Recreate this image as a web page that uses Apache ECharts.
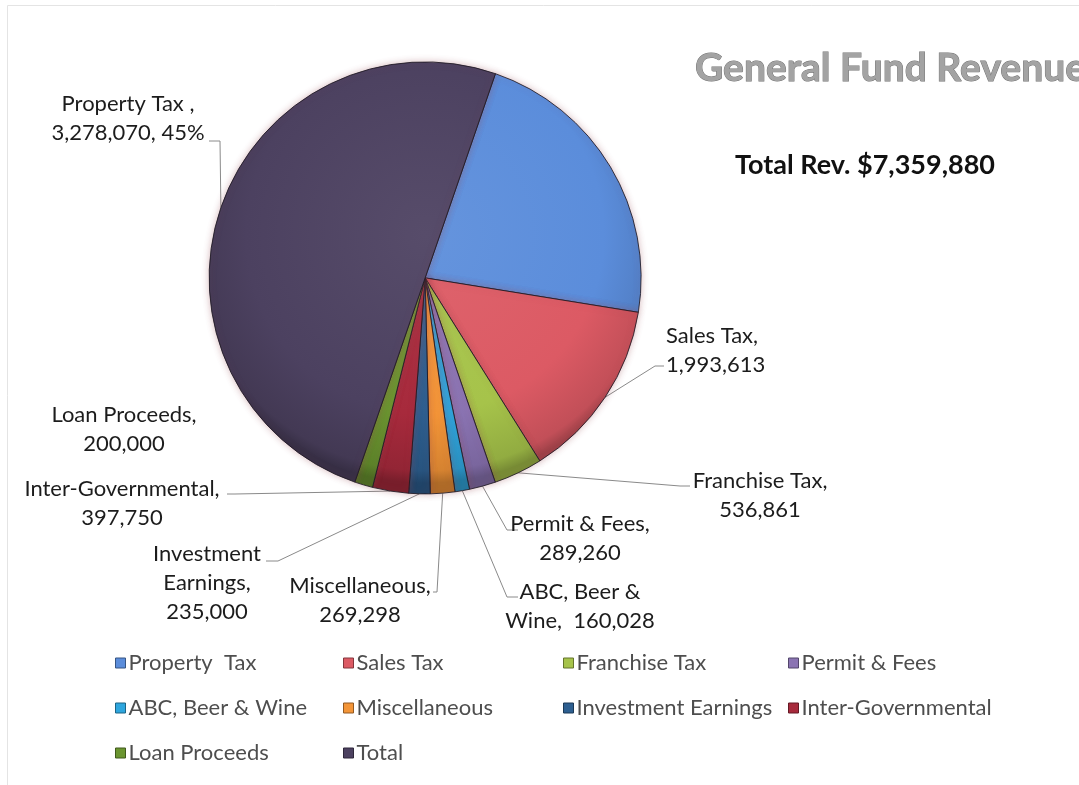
<!DOCTYPE html>
<html>
<head>
<meta charset="utf-8">
<title>General Fund Revenue</title>
<script src="https://cdn.jsdelivr.net/npm/echarts@6/dist/echarts.min.js"></script>
<style>
  html, body { margin: 0; padding: 0; background: #ffffff; }
  #chart { width: 1079px; height: 785px; }
</style>
</head>
<body>
<div id="chart"></div>
<script>
// Revenue categories, in slice order (clockwise)
const categories = [
  'Property  Tax', 'Sales Tax', 'Franchise Tax', 'Permit & Fees',
  'ABC, Beer & Wine', 'Miscellaneous', 'Investment Earnings',
  'Inter-Governmental', 'Loan Proceeds', 'Total'
];
// Amounts in dollars
const amounts = [
  3278070, 1993613, 536861, 289260, 160028,
  269298, 235000, 397750, 200000, 7359880
];
// Label wording for each category as printed beside the pie
const labelNames = [
  'Property Tax ,', 'Sales Tax,', 'Franchise Tax,', 'Permit & Fees,',
  'ABC, Beer &\nWine, ', 'Miscellaneous,', 'Investment\nEarnings,',
  'Inter-Governmental,', 'Loan Proceeds,'
];
const chartTitle = 'General Fund Revenue';
const totalLine = 'Total Rev. $7,359,880';

// Slice base colours
const baseColors = [
  '#5b8ddb', '#dc5a64', '#a6c34a', '#8b74b3', '#2ea6de',
  '#f39538', '#2d5f90', '#a72a3c', '#6a9530', '#4c4160'
];

// Legend columns (indices into categories)
const legendColumns = [[0, 4, 8], [1, 5, 9], [2, 6], [3, 7]];
const legendLefts = [110, 338, 558, 783];

// Where each label sits and how its leader line bends
const labelSpots = {
  1: { x: 666, y: 350, align: 'left',   line: [[655, 366], [664, 366]] },
  2: { x: 760, y: 495, align: 'center', line: [[680, 486], [690, 486]] },
  3: { x: 580, y: 538, align: 'center', line: [[507, 530], [518, 530]] },
  4: { x: 580, y: 606, align: 'center', line: [[507, 597], [518, 597]] },
  5: { x: 360, y: 600, align: 'center', line: [[437, 592], [433, 592]] },
  6: { x: 207, y: 583, align: 'center', line: [[278, 561], [266, 561]] },
  7: { x: 122, y: 503, align: 'center', line: [[235, 494], [227, 494]] },
  8: { x: 124, y: 429, align: 'center' },
  9: { x: 128, y: 118, align: 'center', line: [[220, 141], [209, 141]] }
};

const fmt = v => v.toLocaleString('en-US');

function shade(hex, amt) {
  const n = parseInt(hex.slice(1), 16);
  let r = (n >> 16) & 255, g = (n >> 8) & 255, b = n & 255;
  const f = c => Math.max(0, Math.min(255, Math.round(amt >= 0 ? c + (255 - c) * amt : c * (1 + amt))));
  return 'rgb(' + f(r) + ',' + f(g) + ',' + f(b) + ')';
}

const chart = echarts.init(document.getElementById('chart'), null, { renderer: 'canvas' });
const W = chart.getWidth(), H = chart.getHeight();
const center = [W * 0.394, H * 0.354];
const radius = 216;

function sliceFill(hex) {
  return {
    type: 'radial', x: center[0], y: center[1] - radius * 0.2, r: radius * 1.15, global: true,
    colorStops: [
      { offset: 0, color: shade(hex, 0.06) },
      { offset: 0.72, color: hex },
      { offset: 0.95, color: shade(hex, -0.12) },
      { offset: 1, color: shade(hex, -0.28) }
    ]
  };
}

function labelText(i) {
  if (i === categories.length - 1) {
    // the summary slice carries the Property Tax call-out
    const pct = Math.round(amounts[0] / amounts[categories.length - 1] * 100);
    return labelNames[0] + '\n' + fmt(amounts[0]) + ', ' + pct + '%';
  }
  const nm = labelNames[i];
  return nm + (nm.endsWith(',') ? '\n' : ' ') + fmt(amounts[i]);
}

const pieData = categories.map((name, i) => ({
  name: name,
  value: amounts[i],
  itemStyle: { color: sliceFill(baseColors[i]) },
  label: { show: i !== 0 },
  labelLine: { show: i !== 0 && i !== 8 }
}));

const legends = legendColumns.map((col, k) => ({
  orient: 'vertical',
  left: legendLefts[k],
  top: 647,
  itemWidth: 10,
  itemHeight: 10,
  itemGap: 23,
  icon: 'rect',
  selectedMode: false,
  textStyle: { fontFamily: 'Lato', fontSize: 22, color: '#4e4e4e', lineHeight: 22, padding: [0, 0, 0, -2] },
  data: col.map(i => ({ name: categories[i], itemStyle: { color: baseColors[i], borderColor: shade(baseColors[i], -0.4), borderWidth: 1 } }))
}));

chart.setOption({
  backgroundColor: '#ffffff',
  animation: false,
  title: [
    {
      text: chartTitle, left: 690, top: 44,
      textStyle: {
        fontFamily: 'Lato', fontWeight: 'bold', fontSize: 39, color: '#a3a3a3',
        textBorderColor: '#727272', textBorderWidth: 1
      }
    },
    {
      text: totalLine, left: 730, top: 147,
      textStyle: { fontFamily: 'Lato', fontWeight: 'bold', fontSize: 27, color: '#111111' }
    }
  ],
  legend: legends,
  graphic: [{
    type: 'rect', silent: true, z: -1,
    shape: { x: 7.5, y: 5.5, width: W, height: H },
    style: { fill: 'none', stroke: '#e4e4e4', lineWidth: 1 }
  }],
  series: [{
    type: 'pie',
    center: center,
    radius: radius,
    startAngle: 71,
    clockwise: true,
    avoidLabelOverlap: false,
    emphasis: { disabled: true },
    itemStyle: {
      borderColor: 'rgba(30,25,35,0.85)', borderWidth: 1,
      shadowBlur: 7, shadowColor: 'rgba(150,70,80,0.35)'
    },
    label: {
      position: 'outside',
      fontFamily: 'Lato', fontSize: 22, lineHeight: 29, color: '#1c1c1c',
      formatter: p => labelText(p.dataIndex)
    },
    labelLine: { lineStyle: { color: '#8a8a8a', width: 1 } },
    labelLayout: function (p) {
      const spot = labelSpots[p.dataIndex];
      if (!spot) return {};
      const res = { x: spot.x, y: spot.y, align: spot.align, verticalAlign: 'middle' };
      if (spot.line && p.labelLinePoints) {
        res.labelLinePoints = [p.labelLinePoints[0]].concat(spot.line);
      }
      return res;
    },
    data: pieData
  }]
});
</script>
</body>
</html>
